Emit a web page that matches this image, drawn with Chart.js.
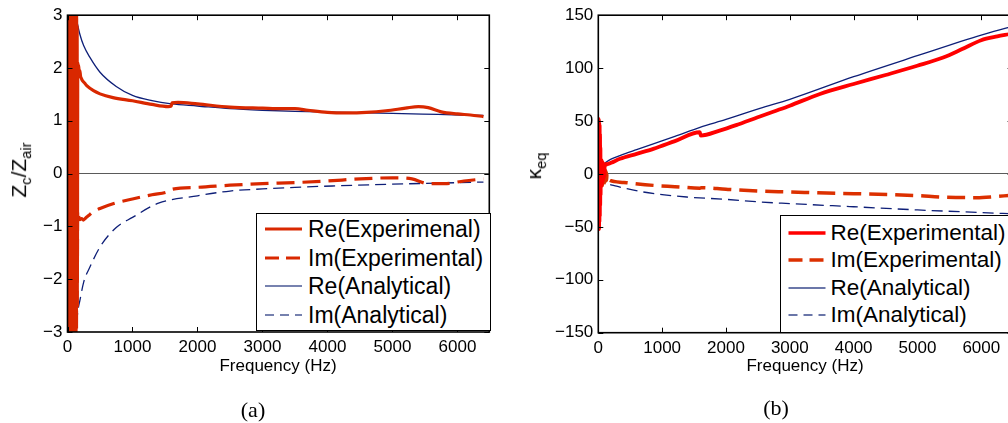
<!DOCTYPE html>
<html><head><meta charset="utf-8">
<script src="https://cdn.jsdelivr.net/npm/chart.js@4.4.1/dist/chart.umd.min.js"></script>
<style>
html,body{margin:0;padding:0;background:#fff;overflow:hidden;width:1008px;height:423px;position:relative;}
.wrap{position:absolute;top:0;height:423px;}
#w1{left:0;width:500px;}
#w2{left:520px;width:505px;}
.t{position:absolute;font-family:"Liberation Sans",Arial,sans-serif;color:#000;white-space:nowrap;line-height:1;}
.rot{transform:translate(-50%,-50%) rotate(-90deg);}
.ctr{transform:translate(-50%,-50%);}
.cap{font-family:"Liberation Serif","Times New Roman",serif;font-size:22px;}
.lg{position:absolute;border:1.5px solid #000;background:#fff;box-sizing:border-box;}
.row{position:absolute;left:0;height:28px;white-space:nowrap;font-family:"Liberation Sans",Arial,sans-serif;color:#000;}
.row svg{position:absolute;top:0;}
.row span{position:absolute;top:50%;transform:translateY(-50%);line-height:1;}
sub{font-size:70%;vertical-align:-0.35em;}
</style>
</head><body>
<div class="wrap" id="w1"><canvas id="c1" width="500" height="423"></canvas></div>
<div class="wrap" id="w2"><canvas id="c2" width="505" height="423"></canvas></div>

<div class="t rot" style="left:21px;top:170px;font-size:21px;">Z<sub>c</sub>/Z<sub>air</sub></div>
<div class="t rot" style="left:536px;top:166px;font-size:21px;">κ<sub>eq</sub></div>
<div class="t ctr" style="left:278px;top:365px;font-size:17px;">Frequency (Hz)</div>
<div class="t ctr" style="left:805px;top:365px;font-size:17px;">Frequency (Hz)</div>
<div class="t ctr cap" style="left:253px;top:410px;">(a)</div>
<div class="t ctr cap" style="left:776px;top:408px;">(b)</div>

<div class="lg" id="lg1" style="left:256px;top:213px;width:235px;height:118px;"></div>
<div class="lg" id="lg2" style="left:780px;top:215px;width:240px;height:118px;"></div>

<script>
// ---------------- DATA ----------------
const xTicks = [0,1000,2000,3000,4000,5000,6000];
const leftYTicks = [-3,-2,-1,0,1,2,3];
const rightYTicks = [-150,-100,-50,0,50,100,150];

const leftLegend = ["Re(Experimenal)","Im(Experimental)","Re(Analytical)","Im(Analytical)"];
const rightLegend = ["Re(Experimental)","Im(Experimental)","Re(Analytical)","Im(Analytical)"];

// (a) Zc/Zair
const aReExpF = [0,4,8,12,16,20,24,28,32,36,40,44,48,52,56,60,64,68,72,76,80,84,88,92,96,100,104,108,112,116,120,124,128,132,136,140,144,148,152,
  158,165,172,180,190,200,215,230,260,300,400,500,700,1000,1300,1550,1595,1610,1700,2000,2500,3000,3300,3500,3700,4000,4300,4600,4900,5200,5400,5550,5750,6000,6200,6400];
const aReExpV = [0.5,3.6,-3.6,3.6,-3.6,3.6,-3.6,3.6,-3.6,3.6,-3.6,3.6,-3.6,3.6,-3.6,3.6,-3.6,3.6,-3.6,3.6,-3.6,3.6,-3.6,3.6,-3.6,3.6,-3.6,3.6,-3.6,3.6,-3.2,3.4,-3.0,3.2,-2.8,3.0,-2.5,2.8,-2.0,
  2.1,2.0,2.05,1.9,1.95,1.85,1.8,1.76,1.72,1.66,1.57,1.51,1.44,1.38,1.31,1.27,1.28,1.34,1.35,1.32,1.26,1.24,1.23,1.23,1.2,1.16,1.15,1.16,1.19,1.24,1.27,1.25,1.17,1.13,1.11,1.08];

const aImExpF = [0,6,12,18,24,30,36,42,48,54,60,66,72,78,84,90,96,102,108,114,120,126,132,138,144,150,
  156,170,190,215,245,280,320,400,500,700,1000,1300,1550,1600,2000,2500,3000,3500,4000,4500,5000,5300,5550,5800,6100,6400];
const aImExpV = [0,-3.6,3.6,-3.6,3.6,-3.6,3.6,-3.6,3.6,-3.6,3.6,-3.6,3.6,-3.6,3.6,-3.6,3.6,-3.6,3.6,-3.6,3.0,-3.6,2.5,-3.0,1.5,-2.5,
  -0.7,-0.8,-0.87,-0.85,-0.88,-0.84,-0.8,-0.72,-0.66,-0.57,-0.48,-0.4,-0.34,-0.3,-0.26,-0.22,-0.19,-0.17,-0.14,-0.1,-0.08,-0.1,-0.19,-0.19,-0.14,-0.1];

const aReAnF = [110,130,160,190,250,345,500,750,1000,1300,1600,2000,2500,3000,3500,4200,5000,5700,6400];
const aReAnV = [3.4,3.0,2.8,2.64,2.42,2.2,1.92,1.65,1.48,1.38,1.32,1.28,1.23,1.2,1.18,1.16,1.14,1.12,1.10];

const aImAnF = [110,130,160,191,250,345,500,750,1000,1400,2000,2500,3000,3500,4200,5000,5700,6400];
const aImAnV = [-3.5,-3.0,-2.6,-2.4,-2.05,-1.77,-1.39,-1.02,-0.83,-0.56,-0.42,-0.33,-0.29,-0.26,-0.23,-0.2,-0.18,-0.16];

// (b) kappa_eq
const bReExpF = [0,3,6,9,12,15,18,21,24,27,30,33,36,40,45,50,55,60,65,70,75,80,85,90,95,100,110,120,130,140,
  200,340,600,862,1200,1590,1605,1900,2200,2532,2750,3000,3472,4000,4500,4996,5403,5700,5998,6250,6430];
const bReExpV = [0,52,-50,51,-52,48,-45,46,-40,38,-30,25,-20,14,-12,13,-10,12,-8,11,-6,10,-4,9,-2,8.5,9,8.5,9.5,9.2,
  10.5,14.3,19,23.7,31,39.4,36.3,41,47,54.2,59,64.5,75.6,85,93.5,102.2,110,118,126.4,130,132];

const bImExpF = [0,5,10,15,20,25,30,35,40,45,50,55,60,65,70,75,80,85,90,95,100,105,110,115,120,125,130,135,140,150,
  183,400,862,1200,1593,1610,2000,2532,3000,3577,4000,4620,5000,5403,5926,6200,6430];
const bImExpV = [0,12,-14,13,-15,12,-13,14,-12,11,-12,10,-11,9,-10,8,-9,7,-9,5,-8,4,-7,3,-6,2,-6,0,-4,-4.5,
  -6.1,-8,-10.8,-12,-13.4,-13,-14.5,-16.2,-17,-18.1,-18.6,-19.6,-20.5,-21.9,-22.4,-21.5,-20.3];

const bReAnF = [0,10,30,60,100,131,200,340,600,862,1200,1593,2000,2532,3000,4000,4996,5998,6430];
const bReAnV = [0,2.5,5,7.5,10,11.5,14,17.4,23,28.5,35.5,44.1,51.5,62,70.5,91.9,111.7,131.2,138.5];

const bImAnF = [0,10,30,60,100,150,250,340,500,700,1000,1384,2000,2532,3000,4000,5000,6000,6430];
const bImAnV = [0,-2.5,-4.5,-6.5,-8,-9.5,-11,-12.4,-14.5,-17,-19.5,-21.8,-24,-26.5,-28,-31,-34,-36.5,-37.5];

// ---------------- STYLE ----------------
const FONT = '"Liberation Sans", Arial, sans-serif';
const NAVY = '#0e1f78';
const pts = (f, v) => f.map((x, i) => ({x, y: v[i]}));

const framePlugin = {
  id: 'frame',
  afterDatasetsDraw(chart) {
    const {ctx, chartArea: a, scales: {x, y}} = chart;
    ctx.save();
    ctx.strokeStyle = '#000';
    ctx.lineWidth = 1;
    const L = 5;
    ctx.beginPath();
    x.ticks.forEach(t => {
      const p = Math.round(x.getPixelForValue(t.value)) + 0.5;
      ctx.moveTo(p, a.bottom); ctx.lineTo(p, a.bottom - L);
      ctx.moveTo(p, a.top); ctx.lineTo(p, a.top + L);
    });
    y.ticks.forEach(t => {
      const p = Math.round(y.getPixelForValue(t.value)) + 0.5;
      ctx.moveTo(a.left, p); ctx.lineTo(a.left + L, p);
      ctx.moveTo(a.right, p); ctx.lineTo(a.right - L, p);
    });
    ctx.stroke();
    ctx.lineWidth = 1.6;
    ctx.strokeRect(a.left, a.top, a.right - a.left, a.bottom - a.top);
    ctx.restore();
  }
};

function makeChart(id, cfg) {
  const ds = cfg.series.map(s => ({
    label: s.label,
    data: pts(s.f, s.v),
    borderColor: s.color,
    borderWidth: s.width,
    borderDash: s.dash || [],
    pointRadius: 0,
    fill: false,
    cubicInterpolationMode: 'monotone',
    clip: 0
  }));
  return new Chart(document.getElementById(id), {
    type: 'line',
    data: {datasets: ds},
    options: {
      responsive: false,
      animation: false,
      devicePixelRatio: 1,
      layout: {padding: {top: cfg.padTop, right: cfg.padRight, left: 0, bottom: 0}},
      plugins: {legend: {display: false}, tooltip: {enabled: false}},
      scales: {
        x: {
          type: 'linear', min: 0, max: 6490,
          afterBuildTicks: s => { s.ticks = xTicks.map(v => ({value: v})); },
          afterFit: s => { s.height = cfg.xHeight; },
          grid: {display: false, drawTicks: false},
          border: {display: false},
          ticks: {color: '#000', font: {family: FONT, size: 17}, padding: 5, maxRotation: 0, autoSkip: false,
                  callback: v => String(v)}
        },
        y: {
          type: 'linear', min: cfg.yTicks[0], max: cfg.yTicks[cfg.yTicks.length - 1],
          afterBuildTicks: s => { s.ticks = cfg.yTicks.map(v => ({value: v})); },
          afterFit: s => { s.width = cfg.yWidth; },
          grid: {display: true, drawTicks: false, lineWidth: 1,
                 color: c => (c.tick && c.tick.value === 0) ? '#5a5a5a' : 'rgba(0,0,0,0)'},
          border: {display: false},
          ticks: {color: '#000', font: {family: FONT, size: 17}, padding: 5,
                  callback: v => String(v).replace('-', '\u2212')}
        }
      }
    },
    plugins: [framePlugin]
  });
}

makeChart('c1', {
  padTop: 14.3, padRight: 10.7, xHeight: 91, yWidth: 67.5, yTicks: leftYTicks,
  series: [
    {label: leftLegend[0], f: aReExpF, v: aReExpV, color: '#d92800', width: 3.2},
    {label: leftLegend[1], f: aImExpF, v: aImExpV, color: '#d92800', width: 3.2, dash: [18, 8]},
    {label: leftLegend[2], f: aReAnF, v: aReAnV, color: NAVY, width: 1.3},
    {label: leftLegend[3], f: aImAnF, v: aImAnV, color: NAVY, width: 1.3, dash: [11, 6]}
  ]
});
makeChart('c2', {
  padTop: 14.3, padRight: 12.4, xHeight: 90.3, yWidth: 78.3, yTicks: rightYTicks,
  series: [
    {label: rightLegend[0], f: bReExpF, v: bReExpV, color: '#ff0000', width: 3.8},
    {label: rightLegend[1], f: bImExpF, v: bImExpV, color: '#dc3000', width: 3.5, dash: [18, 8]},
    {label: rightLegend[2], f: bReAnF, v: bReAnV, color: NAVY, width: 1.3},
    {label: rightLegend[3], f: bImAnF, v: bImAnV, color: NAVY, width: 1.3, dash: [11, 6]}
  ]
});

// ---------------- LEGENDS (HTML) ----------------
function legend(boxId, labels, colors, widths, dashes, fontSize, rowTops, lineX0, lineX1, textX) {
  const box = document.getElementById(boxId);
  labels.forEach((lab, i) => {
    const r = document.createElement('div');
    r.className = 'row';
    r.style.top = rowTops[i] + 'px';
    r.style.width = '300px';
    r.innerHTML = '<svg width="' + (lineX1 + 2) + '" height="28"><line x1="' + lineX0 + '" y1="14" x2="' + lineX1 +
      '" y2="14" stroke="' + colors[i] + '" stroke-width="' + widths[i] + '" stroke-dasharray="' + (dashes[i] || 'none') + '"/></svg>' +
      '<span style="left:' + textX + 'px;font-size:' + fontSize + 'px;">' + lab + '</span>';
    box.appendChild(r);
  });
}
legend('lg1', leftLegend, ['#d92800', '#d92800', '#4a5894', '#4a5894'], [3.2, 3.2, 1.3, 1.3],
  [null, '14,7', null, '9,6'], 23, [1, 29.5, 58, 86.5], 8, 45, 51);
legend('lg2', rightLegend, ['#ff0000', '#dc3000', '#3a4a8c', '#3a4a8c'], [3.6, 3.4, 1.3, 1.3],
  [null, '14,7', null, '9,6'], 22.5, [3, 30, 58, 85], 7.5, 44.5, 49.5);
</script>
</body></html>
